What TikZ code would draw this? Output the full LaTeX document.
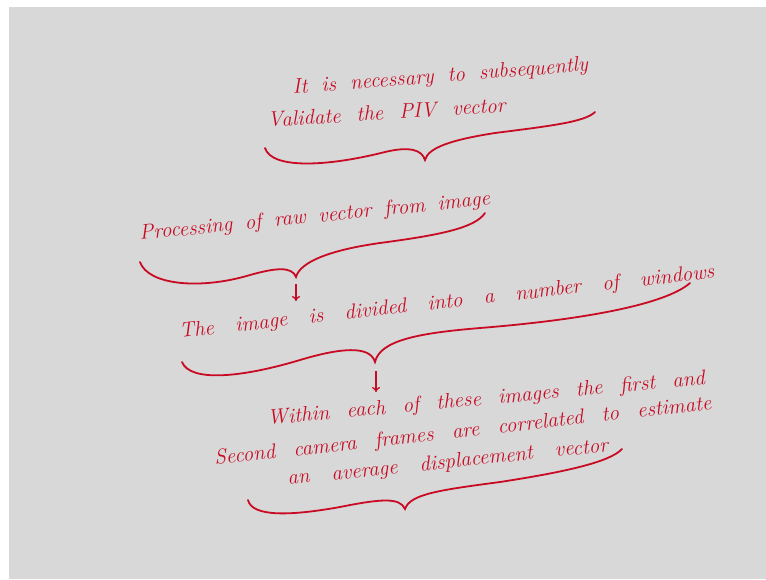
\documentclass[tikz,border=0pt]{standalone}
\usepackage{graphicx}
\usetikzlibrary{arrows.meta}
\definecolor{bggray}{RGB}{216,216,216}
\definecolor{ink}{RGB}{200,10,35}
\newsavebox\handlinebox
\newcommand{\fitline}[2]{\sbox\handlinebox{#2}\ifdim\wd\handlinebox>#1\relax\resizebox{#1}{\height}{#2}\else\makebox[#1][s]{#2}\fi}
\tikzset{
  hand/.style={text=ink, inner sep=0pt, anchor=base west, font=\fontsize{21}{25}\selectfont\itshape},
  brace/.style={draw=ink, line width=1.8pt, line cap=round},
  arr/.style={draw=ink, line width=1.3pt, -{To[length=5pt,width=8pt]}}
}
\begin{document}
\begin{tikzpicture}[x=1pt,y=-1pt]
\useasboundingbox (0,0) rectangle (766,579);
\fill[white] (0,0) rectangle (766,579);
\fill[bggray] (9,7) rectangle (766,579);

\node[hand, rotate=4.5] (t1) at (293,94) {\fitline{296pt}{It is necessary to subsequently}};
\node[hand, rotate=3.6] (t2) at (268,127) {\fitline{238pt}{Validate the PIV vector}};
\path[brace] (265,148) .. controls (272,170) and (330,166) .. (385,152) .. controls (410,146) and (422,150) .. (425,160) .. controls (428,148) and (450,140) .. (495,133) .. controls (550,126) and (585,122) .. (595,112);

\node[hand, rotate=5.7] (t3) at (140,240) {\fitline{352pt}{Processing of raw vector from image}};
\path[brace] (140,262) .. controls (148,285) and (200,290) .. (250,275) .. controls (275,268) and (292,266) .. (296,277) .. controls (300,262) and (330,250) .. (380,243) .. controls (440,235) and (475,228) .. (485,213);
\coordinate (a1s) at (296,284);
\coordinate (a1e) at (296,301);
\draw[arr] (a1s) -- (a1e);

\node[hand, rotate=6.4] (t4) at (180,338) {\fitline{538pt}{The image is divided into a number of windows}};
\path[brace] (182,362) .. controls (190,382) and (240,378) .. (300,360) .. controls (340,348) and (370,345) .. (375,362) .. controls (380,340) and (420,333) .. (480,328) .. controls (580,320) and (665,305) .. (690,283);
\coordinate (a2s) at (376,371);
\coordinate (a2e) at (376,392);
\draw[arr] (a2s) -- (a2e);

\node[hand, rotate=5.3] (t5) at (268,425) {\fitline{439pt}{Within each of these images the first and}};
\node[hand, rotate=6.4] (t6) at (215,465) {\fitline{500pt}{Second camera frames are correlated to estimate}};
\node[hand, rotate=6.0] (t7) at (288,485) {\fitline{322pt}{an average displacement vector}};
\path[brace] (248,500) .. controls (252,517) and (290,516) .. (340,507) .. controls (380,499) and (400,497) .. (405,509) .. controls (410,494) and (440,490) .. (500,482) .. controls (565,472) and (610,462) .. (622,449);
\end{tikzpicture}
\end{document}
